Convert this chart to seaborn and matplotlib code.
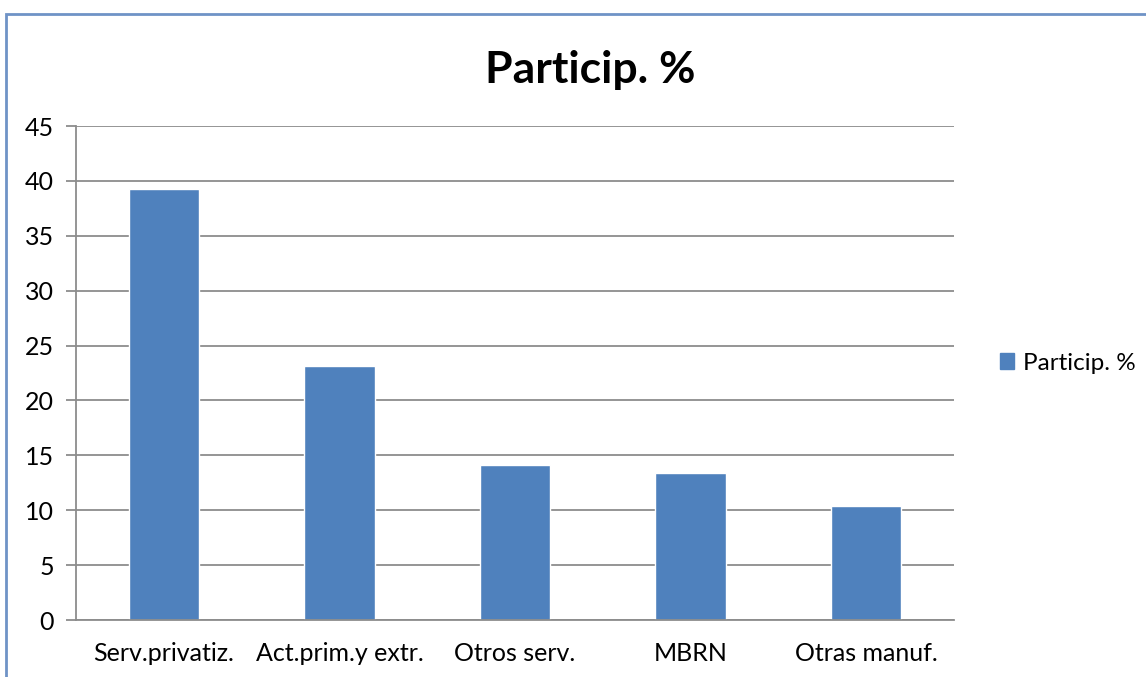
import matplotlib
matplotlib.use("Agg")
import matplotlib.pyplot as plt
import matplotlib.patches as mpatches
import seaborn as sns

# Data
categories = ['Serv.privatiz.', 'Act.prim.y extr.', 'Otros serv.', 'MBRN', 'Otras manuf.']
particip = [39.25, 23.1, 14.1, 13.4, 10.4]
series_name = 'Particip. %'
bar_color = '#4F81BD'

sns.set_style("white")
plt.rcParams['font.family'] = ['Lato', 'DejaVu Sans']
plt.rcParams['text.color'] = 'black'
plt.rcParams['xtick.labelcolor'] = 'black'
plt.rcParams['ytick.labelcolor'] = 'black'

fig = plt.figure(figsize=(11.46, 6.77), dpi=100)
ax = fig.add_axes([76 / 1146, 57 / 677, 878 / 1146, 494 / 677])

sns.barplot(x=categories, y=particip, color=bar_color, width=0.4,
            saturation=1, label=series_name, ax=ax)

ax.set_ylim(0, 45)
ax.set_xlim(-0.5, len(categories) - 0.5)
ax.set_yticks(range(0, 46, 5))
ax.yaxis.grid(True, color='#8C8C8C', linewidth=1.3)
ax.set_axisbelow(True)
ax.set_xlabel('')
ax.set_ylabel('')

for side in ['top', 'right']:
    ax.spines[side].set_visible(False)
for side in ['left', 'bottom']:
    ax.spines[side].set_color('#8C8C8C')
    ax.spines[side].set_linewidth(1.3)

# category boundary ticks on x, outward ticks on y
ax.set_xticks([i - 0.5 for i in range(len(categories) + 1)], minor=True)
ax.tick_params(axis='x', which='major', length=0, labelsize=18, pad=16)
ax.tick_params(axis='x', which='minor', length=7, width=1.3, color='#8C8C8C', direction='out')
ax.tick_params(axis='y', length=7, width=1.3, color='#8C8C8C', direction='out',
               labelsize=18, pad=9, left=True)

fig.suptitle('Particip. %', x=590 / 1146, y=1 - 50 / 677, fontsize=32, fontweight='bold',
             color='black')

if ax.legend_:
    ax.legend_.remove()
handle = mpatches.Patch(color=bar_color, label=series_name)
fig.legend(handles=[handle], loc='center left', bbox_to_anchor=(978 / 1146, 1 - 363 / 677),
           frameon=False, fontsize=17.5, handlelength=0.6, handleheight=0.6, handletextpad=0.35)

# outer chart frame
frame = mpatches.Rectangle((6 / 1146, -0.2), 1.2, 1 - 14 / 677 + 0.2, transform=fig.transFigure,
                           fill=False, edgecolor='#6F93C6', linewidth=2)
fig.patches.append(frame)

fig.savefig('out.png', dpi=100)
